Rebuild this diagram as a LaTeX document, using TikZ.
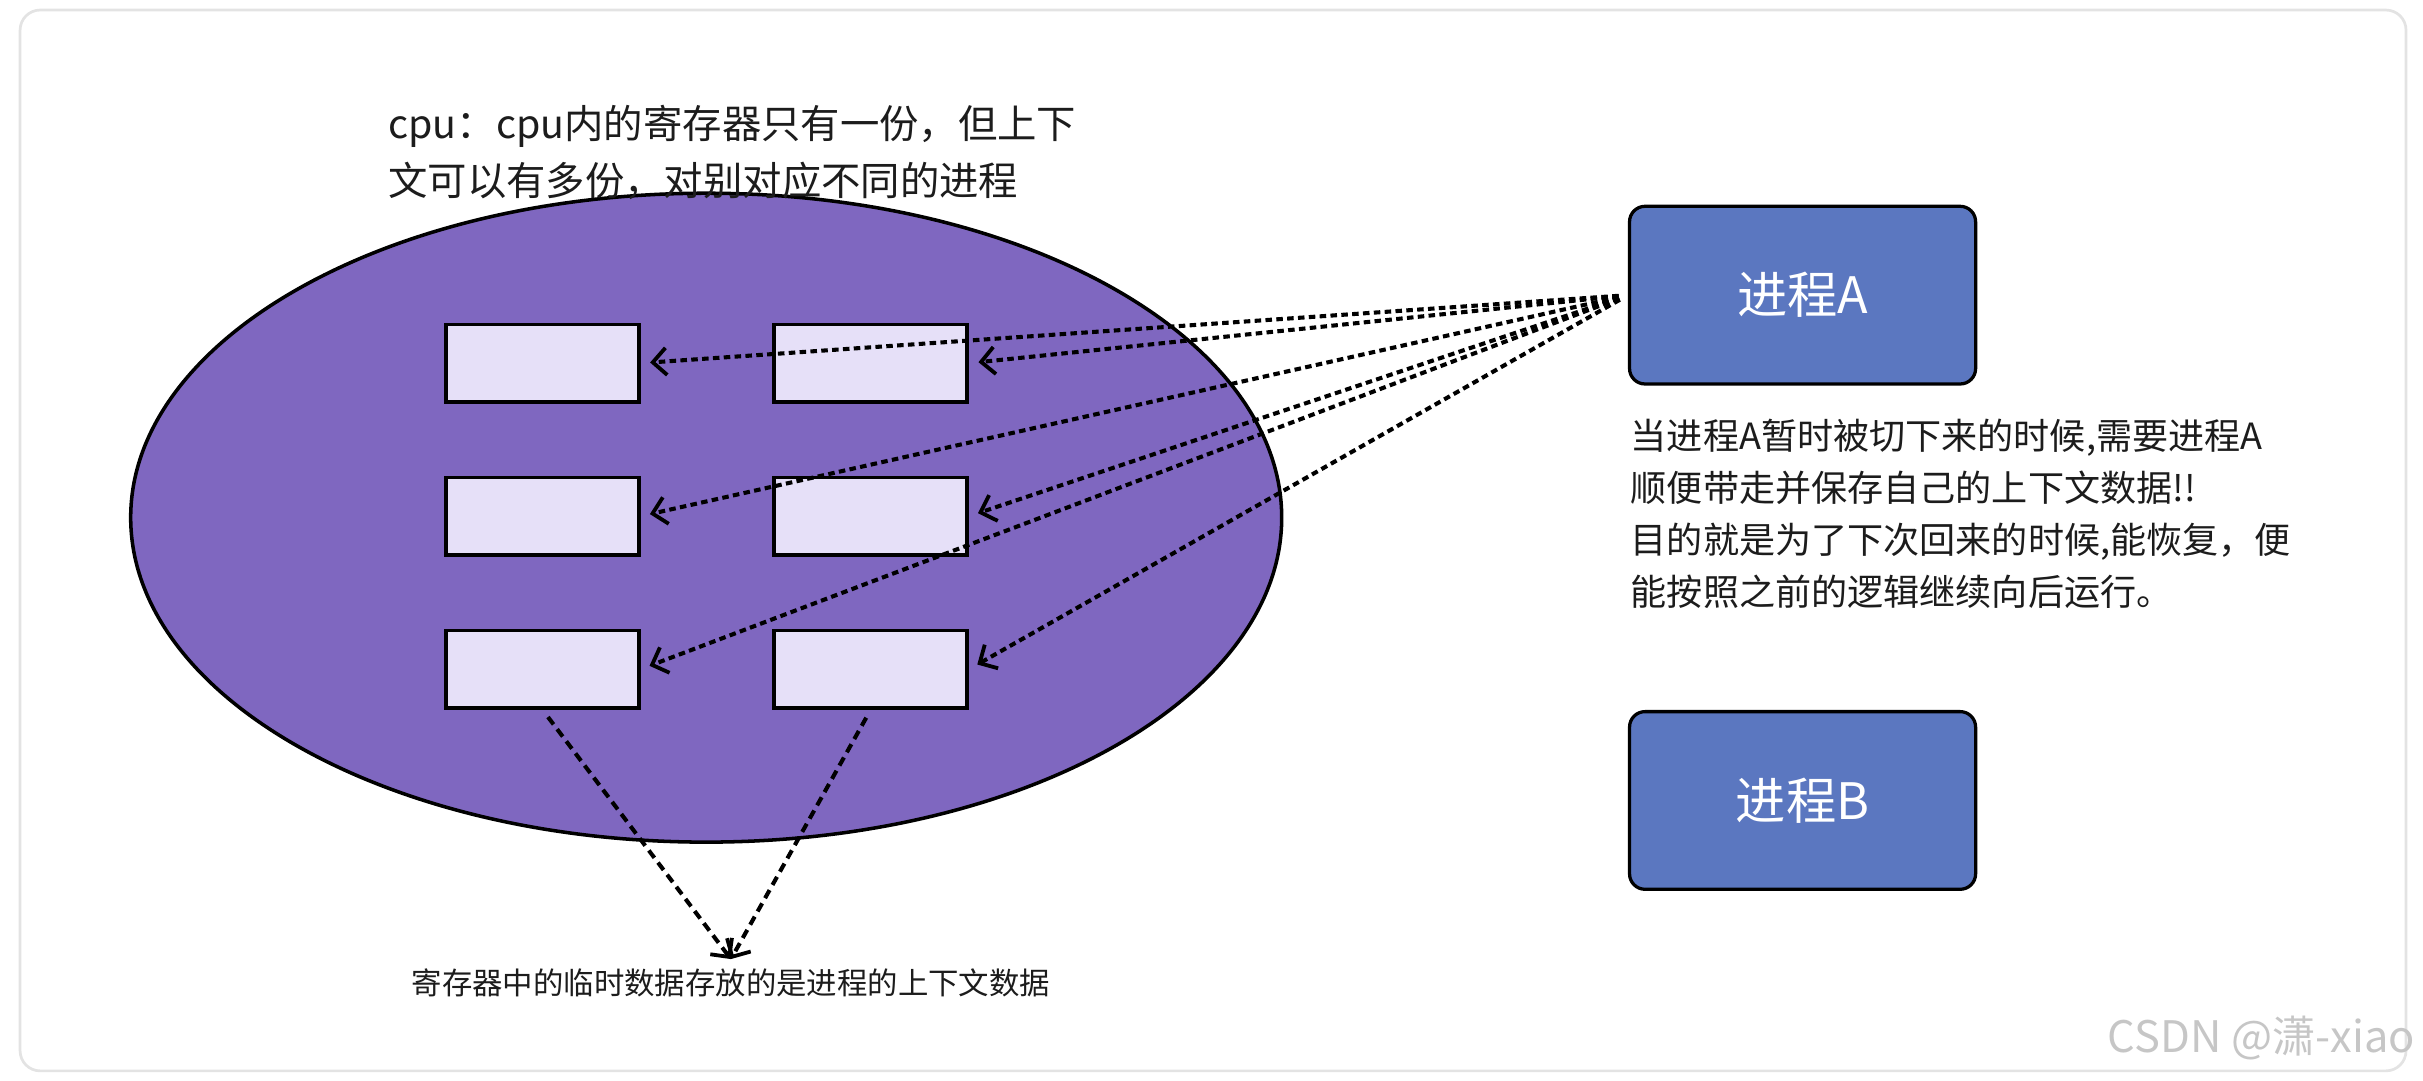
\documentclass[tikz,border=0pt]{standalone}
\usepackage{fontspec}
\setmainfont{Noto Sans CJK SC}
\usepackage{xcolor}
\usetikzlibrary{shapes.geometric,arrows.meta}

\definecolor{cpupurple}{HTML}{7F67C0}
\definecolor{reglilac}{HTML}{E6E0F8}
\definecolor{procblue}{HTML}{5B77C0}
\definecolor{inktext}{HTML}{1C1C1C}

\tikzset{
  regbox/.style={draw=black,line width=1.4pt,fill=reglilac,
    minimum width=2.5cm,minimum height=1cm,inner sep=0pt},
  procbox/.style={draw=black,line width=1.2pt,fill=procblue,rounded corners=0.2cm,
    minimum width=4.48cm,minimum height=2.3cm,text=white,
    font=\fontsize{18.5}{22}\selectfont},
  ctxarrow/.style={line width=1.5pt,dash pattern=on 2.4pt off 1.6pt,
    -{Straight Barb[length=5pt,width=10pt,line width=1.4pt]},
    shorten <=0.12cm,shorten >=0.12cm},
  dataarrow/.style={line width=1.5pt,dash pattern=on 3.4pt off 2.2pt,
    -{Straight Barb[length=5pt,width=10pt,line width=1.4pt]},
    shorten <=0.12cm}
}

\begin{document}
\begin{tikzpicture}[x=0.02cm,y=-0.02cm]
  \useasboundingbox (0,0) rectangle (1568,699);
  \draw[draw=gray!22,line width=1pt,rounded corners=0.26cm] (13,6.5) rectangle (1557,693);

  % cpu and its registers
  \node[ellipse,draw=black,line width=1.3pt,fill=cpupurple,inner sep=0pt,
    minimum width=14.9cm,minimum height=8.4cm] (cpu) at (457,335) {};
  \node[regbox] (r11) at (351,235) {};
  \node[regbox] (r12) at (563.5,235) {};
  \node[regbox] (r21) at (351,334) {};
  \node[regbox] (r22) at (563.5,334) {};
  \node[regbox] (r31) at (351,433) {};
  \node[regbox] (r32) at (563.5,433) {};

  \node[anchor=north west,inner sep=0pt,align=left,text=inktext,
    font=\fontsize{14.5}{21}\selectfont] (cputxt) at (251,68)
    {cpu：cpu内的寄存器只有一份，但上下\\文可以有多份，对别对应不同的进程};

  % processes
  \node[procbox] (A) at (1166.5,191) {进程A};
  \node[procbox] (B) at (1166.5,518) {进程B};
  \node[anchor=north west,inner sep=0pt,align=left,text=inktext,
    font=\fontsize{13.3}{19.1}\selectfont] (note) at (1055,271)
    {当进程A暂时被切下来的时候,需要进程A\\顺便带走并保存自己的上下文数据!!\\
     目的就是为了下次回来的时候,能恢复，便\\能按照之前的逻辑继续向后运行。};

  \foreach \t in {r11,r12,r21,r22,r31,r32}
    \draw[ctxarrow] (A.west) -- (\t.east);

  % context data
  \node[text=inktext,font=\fontsize{11.2}{14}\selectfont] (ctx) at (473,636)
    {寄存器中的临时数据存放的是进程的上下文数据};
  \draw[dataarrow] (r31.south) -- (ctx.north);
  \draw[dataarrow] (r32.south) -- (ctx.north);

  \node[anchor=east,inner sep=0pt,text=gray!45,font=\fontsize{16}{16}\selectfont]
    (mark) at (1563,672) {CSDN @潇-xiao};
\end{tikzpicture}
\end{document}
